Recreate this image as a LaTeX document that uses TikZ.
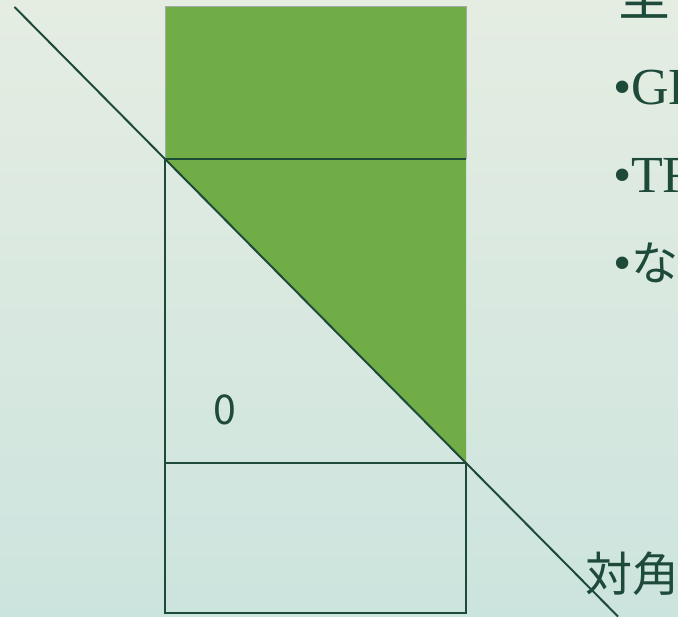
\documentclass[tikz,border=0pt]{standalone}
\usepackage{fontspec}
\usetikzlibrary{calc}
\setmainfont{Liberation Serif}
\newfontfamily\jpfont{Noto Sans CJK JP}
\definecolor{bgtop}{RGB}{229,237,226}
\definecolor{bgbot}{RGB}{204,228,222}
\definecolor{leaf}{HTML}{70AD47}
\definecolor{ink}{RGB}{30,74,58}
\definecolor{rim}{RGB}{165,170,165}
\tikzset{
  pane/.style={draw=ink, line width=2.2pt},
  txt/.style={inner sep=0pt, outer sep=0pt, anchor=base west, text=ink},
}
\begin{document}
\begin{tikzpicture}[x=1pt,y=-1pt]
\useasboundingbox (0,0) rectangle (678,617);
\clip (0,0) rectangle (678,617);
\shade[top color=bgtop, bottom color=bgbot] (0,0) rectangle (678,617);
% shapes
\coordinate (tl) at (165,7);
\coordinate (tr) at (466,7);
\coordinate (ml) at (165,159);
\coordinate (mr) at (466,159);
\coordinate (bl) at (165,463);
\coordinate (br) at (466,463);
\coordinate (el) at (165,613);
\coordinate (er) at (466,613);
\fill[leaf, draw=rim, line width=1pt] (tl) rectangle (mr);
\fill[leaf] (ml) -- (mr) -- (br) -- cycle;
\draw[pane] (mr) -- (ml) -- (bl) -- (br);
\draw[pane] (bl) rectangle (er);
\coordinate (d0) at ($(ml)!-0.5!(br)$);
\coordinate (d1) at ($(ml)!1.505!(br)$);
\draw[ink, line width=2pt] (d0) -- (d1);
% texts
\node[txt, font=\jpfont\fontsize{54}{54}\selectfont] (title) at (617,16) {全};
\node[txt, font=\fontsize{52}{52}\selectfont] (b1) at (613,105) {•GE};
\node[txt, font=\fontsize{52}{52}\selectfont] (b2) at (613,193) {•TR};
\node[txt, font=\fontsize{52}{52}\selectfont] (b3) at (613,281) {•{\jpfont\fontsize{47}{47}\selectfont な}};
\node[txt, font=\jpfont\fontsize{41}{41}\selectfont] (zero) at (213,425) {0};
\node[txt, font=\jpfont\fontsize{47}{47}\selectfont] (diag) at (585,591) {対角};
\end{tikzpicture}
\end{document}
